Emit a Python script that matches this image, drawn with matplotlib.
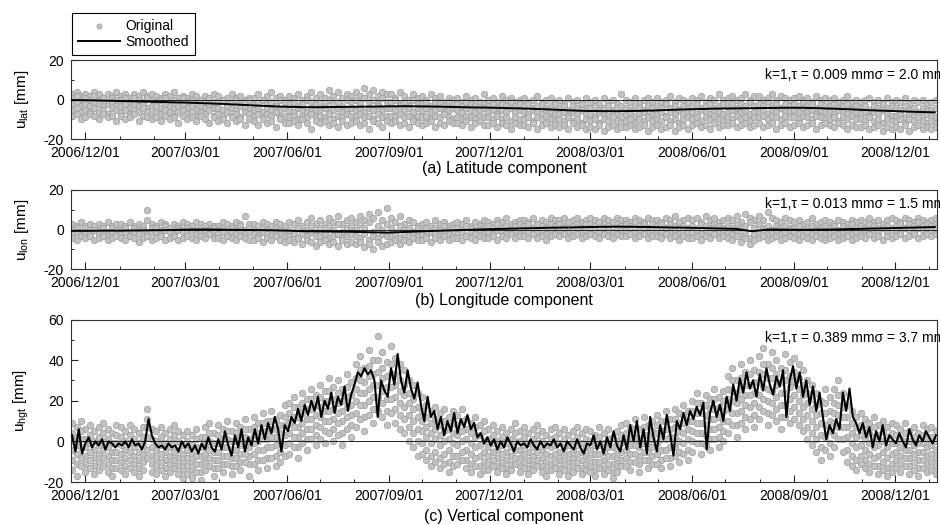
import numpy as np
import pandas as pd
import matplotlib
matplotlib.use('Agg')
import matplotlib.pyplot as plt
import matplotlib.dates as mdates
from matplotlib.ticker import MultipleLocator

plt.rcParams['font.family'] = ['Liberation Sans', 'DejaVu Sans']
plt.rcParams['mathtext.fontset'] = 'custom'
plt.rcParams['mathtext.rm'] = 'Liberation Sans'
plt.rcParams['mathtext.it'] = 'Liberation Sans:italic'
plt.rcParams['axes.unicode_minus'] = False

# ---------------- data ----------------
orig_start = '2006-11-19'      # original samples every 4 days
orig_step = 4
smooth_ab_start = '2006-11-18'  # smoothed lat/lon every 15 days
smooth_ab_step = 15
smooth_c_start = '2006-11-19'   # smoothed height every 3 days
smooth_c_step = 3

lat_smooth = [-0.2, -0.3, -0.5, -0.7, -0.9, -1.1, -1.3, -1.5, -1.8, -2.1, -2.5, -2.9, -3.3,
              -3.6, -3.8, -3.8, -3.7, -3.6, -3.5, -3.4, -3.3, -3.4, -3.5, -3.7, -3.9, -4.0,
              -4.2, -4.4, -4.7, -5.0, -5.4, -5.7, -5.8, -5.8, -5.7, -5.5, -5.2, -4.9, -4.7,
              -4.5, -4.4, -4.3, -4.2, -4.1, -4.1, -4.3, -4.6, -4.9, -5.3, -5.6, -5.9, -6.2, -6.4]

lon_smooth = [-0.6, -0.6, -0.5, -0.5, -0.4, -0.3, -0.2, 0.0, 0.1, 0.0, -0.1, -0.2, -0.3,
              -0.5, -0.8, -0.9, -1.0, -1.1, -1.3, -1.5, -1.2, -0.9, -0.6, -0.3, -0.1, 0.2,
              0.4, 0.6, 0.8, 1.0, 1.1, 1.3, 1.4, 1.5, 1.4, 1.3, 1.1, 1.0, 0.8, 0.6, 0.4,
              -0.8, 0.1, 0.0, -0.1, 0.0, 0.1, 0.3, 0.5, 0.7, 0.9, 1.1, 1.3]

hgt_smooth = [3, -5, 6, -6,
              -1, 2, -3, 0, -2, 1, -4, 0, -1, -3,
              -1, -2, 0, -3, 1, -2, -1, -4, 0, 11, 3,
              -1, -3, -2, -4, -1, -3, -2, -5, 0,
              -3, -1, -5, -2, -6, -1, -4, 2, -3, -5,
              1, -4, 5, -2, -7, 3, -3, 6, -5, 2,
              -2, 6, -1, 8, 1, 9, 4, 12, 6, -5, 8,
              5, 12, 9, 16, 10, 18, 13, 20, 15, 22,
              12, 20, 16, 24, 14, 22, 18, 27, 15, 23,
              28, 34, 32, 36, 33, 35, 30, 12, 30, 25,
              22, 36, 28, 43, 30, 24, 35, 26, 21, 29,
              18, 10, 22, 12, 15, 6, 12, 3, 10, 5, 14,
              4, 11, 7, 13, 6, 9, 2, 4, -1, 2,
              -2, 1, -4, 0, -3, 2, -1, -5, 0, -2,
              -1, -3, 1, -2, -4, 0, -3, -1, -2, 1,
              -3, -1, -5, 0, -2, -4, 1, -3, -6, -1,
              -2, 3, -4, 0, -6, 2, -3, 5, -2, -5,
              3, -4, 8, 0, 10, -3, 6, -6, 12, 2,
              -5, 8, 1, 13, 4, -7, 10, 6, 14, 8, 15,
              11, 17, 13, 19, -4, 14, 20, 12, 18, 10,
              22, 15, 28, 20, 31, 24, 34, 26, 30, 22,
              33, 25, 36, 28, 23, 32, 27, 35, 12, 30,
              37, 26, 34, 22, 30, 18, 27, 15, 24, 12,
              1, 8, 4, 11, 6, 24, 15, 26, 12, 9, 4,
              9, 2, 7, -3, 5, 0, 8, -2, 3, 1,
              -1, 4, 0, -3, 6, 1, -2, 3, 0, 5,
              2, -1, 3]

lat_orig_1 = """3 4 2  3 2 4 3 1 3 2 4  2 3 1 3 2 4 2 3  2 1 3 2 4 1 2  1 3 2 0 2 1 3
2 0 1 3 1 2 0 1  1 3 0 2 4 1 2 0  2 1 3 0 2 4 1  3 1 5 2 4 1 3 2  4 2 6 3 5 2 4 3
3 1 4 2 0 3 1  2 0 3 1 2 -1 1 0  1 -1 2 0 1 -1 3  0 1 -1 2 0 1 -1 0  1 -1 0 2 -1 0 1 -1
0 -2 1 -1 0 -2 1  -1 0 -2 1 -1 0 -2 3  0 -1 1 -2 0 1 -1  1 -1 0 2 -1 1 0 -1
1 0 2 -1 1 0 3 0  1 2 0 1 3 0 2  2 0 1 3 0 2 1 0  1 2 0 1 -1 2 0 1  0 1 -1 0 2 -1 0
-1 0 1 -1 0 -2 1 -1  0 -1 1 -2 0 -1 0 -2  -1 0"""
lat_orig_2 = """1 2 0  1 0 2 0 1 -1 1 0  0 1 -1 1 0 -1 1 0  -1 0 1 -1 0 -1 1  -1 0 -2 0 -1 1 -1
-1 0 -2 -1 0 -2 -1 0  -2 -1 0 -2 -1 -3 0 -1  -2 -1 -3 -2 0 -1 -2  -1 -3 0 -2 -1 -3 0 -1
0 -2 1 -1 0 -2 1 -1  -1 0 -2 -1 -3 0 -2  -2 -1 -3 -1 -2 -3 -1 -2  -2 -3 -1 -2 -3 -1 -2
-3 -2 -4 -2 -3 -1 -3 -2  -3 -2 -4 -3 -2 -4 -3 -2  -4 -3 -5 -3 -4 -2 -4  -4 -3 -5 -4 -3 -5 -4 -3
-4 -5 -3 -4 -5 -3 -4  -3 -4 -2 -4 -3 -5 -3 -4  -3 -2 -4 -3 -2 -4 -3 -2  -3 -2 -4 -2 -3 -1 -3
-2 -3 -1 -3 -2 -4 -2 -3  -2 -3 -1 -3 -2 -4 -2 -3  -3 -2 -4 -3 -2 -4 -3  -4 -3 -5 -3 -4 -2 -4 -3
-4 -5 -3 -5 -4 -6 -4 -5  -5 -4"""
lat_orig_3 = """-2 -1 -3  -2 -3 -1 -2 -3 -2 -1 -3  -3 -2 -4 -2 -3 -2 -4 -3  -3 -4 -2 -3 -4 -3 -2
-4 -3 -5 -3 -4 -2 -4  -4 -5 -3 -4 -5 -3 -4 -5  -5 -4 -6 -4 -5 -3 -5 -4  -5 -6 -4 -5 -6 -4 -5
-5 -4 -6 -5 -4 -6 -5 -4  -5 -4 -6 -4 -5 -3 -5 -4  -4 -5 -3 -5 -4 -6 -4  -5 -4 -6 -5 -4 -6 -5 -4
-5 -6 -4 -5 -6 -5 -4  -6 -5 -7 -5 -6 -4 -6 -5  -6 -7 -5 -6 -7 -5 -6 -7  -7 -6 -8 -6 -7 -5 -7
-7 -8 -6 -7 -8 -6 -7 -8  -7 -6 -8 -7 -6 -8 -7  -7 -6 -8 -6 -7 -5 -7 -6  -6 -7 -5 -6 -7 -5 -6 -7
-6 -5 -7 -6 -5 -7 -6  -6 -5 -7 -5 -6 -4 -6 -5  -5 -6 -4 -6 -5 -7 -5 -6  -6 -7 -5 -6 -7 -5 -6
-7 -6 -8 -6 -7 -5 -7 -8  -8 -7 -9 -7 -8 -6 -8 -7  -8 -9"""
lat_orig_4 = """-5 -4 -6  -5 -6 -4 -6 -5 -7 -4 -5  -6 -5 -7 -5 -6 -4 -6 -7  -6 -7 -5 -6 -8 -6 -5
-7 -6 -8 -6 -7 -5 -8  -7 -8 -6 -8 -7 -9 -6 -7  -8 -7 -9 -7 -8 -6 -9 -8  -9 -8 -10 -8 -9 -7 -9
-8 -9 -7 -10 -8 -9 -7 -8  -8 -7 -9 -8 -10 -7 -9 -8  -8 -9 -7 -9 -8 -10 -8  -9 -8 -10 -8 -9 -7 -9 -10
-9 -10 -8 -9 -10 -8 -9  -9 -10 -8 -10 -9 -11 -9 -10  -10 -9 -11 -9 -10 -8 -10 -11
-10 -11 -9 -11 -10 -12 -10  -11 -10 -12 -10 -11 -9 -11 -12  -11 -10 -12 -10 -11 -9 -11
-10 -11 -9 -11 -10 -12 -10 -9  -10 -9 -11 -9 -10 -8 -10 -11  -9 -10 -8 -10 -9 -11 -9
-9 -8 -10 -8 -9 -10 -8 -9  -9 -10 -8 -9 -10 -8 -9 -10  -10 -9 -11 -9 -10 -8 -10
-10 -11 -9 -11 -10 -12 -10 -11  -11 -10 -12 -10 -11 -9 -11 -12  -11 -12"""
lat_orig_5 = """-8 -7 -10  -9 -7 -8 -10 -7 -9 -8 -11  -8 -10 -9 -7 -11 -8 -9 -10  -9 -11 -8 -10 -9 -12 -8
-10 -9 -11 -8 -10 -12 -9  -11 -10 -12 -9 -11 -10 -13 -10  -11 -13 -10 -12 -11 -14 -10 -12
-12 -11 -13 -10 -12 -15 -11  -12 -11 -13 -12 -14 -11 -13 -12  -11 -13 -12 -15 -11 -12 -14 -11
-12 -11 -13 -12 -14 -11 -12  -13 -12 -11 -14 -12 -13 -11 -12  -12 -13 -11 -14 -12 -11 -13
-13 -12 -14 -12 -13 -15 -12 -13  -13 -14 -12 -15 -13 -12 -14 -13  -14 -13 -15 -12 -14 -13 -15
-14 -15 -13 -16 -14 -13 -15 -14  -14 -13 -15 -14 -13 -16 -14  -13 -15 -14 -13 -16 -14 -13 -15
-13 -12 -14 -13 -15 -12 -14 -13  -13 -12 -14 -13 -12 -14 -13  -12 -14 -13 -12 -15 -13 -12 -14
-13 -12 -14 -13 -12 -15 -13 -12  -13 -14 -12 -13 -15 -13 -14  -14 -13 -15 -14 -13 -16 -14 -15
-14 -15 -13 -16 -14 -13 -15 -14  -15 -14"""

lon_orig_1 = """3 2 4  2 3 1 3 2 4 2 3  3 2 4 2 3 1 10 3  2 4 3 1 3 2 4  3 2 4 3 1 3 2
2 4 3 2 4 3 7 3  3 2 4 3 2 4 3 2  4 3 5 2 4 6 3  5 3 6 4 7 3 5 6  4 7 5 8 6 9 5 11
6 4 7 3 5 4 2  3 4 2 5 3 4 2 3  4 3 5 2 4 3 5  4 3 5 4 6 3 4 5  5 4 6 3 5 4 6 5
5 6 4 5 6 4 5  6 5 4 6 5 4 6 5  5 4 6 5 4 6 5  5 4 6 5 7 4 5 6  5 6 4 7 5 6 4 5
6 5 7 4 8 6 5  7 5 9 6 5 4 6 5  4 5 3 4 6 3 4 5  4 3 5 4 3 5 4  5 4 6 4 5 3 5 6
5 4 6 5 4 6 5 4  5 6"""
lon_orig_2 = """0 1 -1  1 0 2 0 1 -1 1 0  0 1 -1 1 0 2 5 1  1 0 2 1 -1 1 0  1 2 0 1 2 0 1
0 1 -1 1 0 2 0 1  0 -1 1 0 -1 1 0 -1  0 -1 1 -1 0 2 -1  1 -1 2 0 3 -1 1 2  0 3 1 4 -1 2 0 3
1 -1 2 0 1 -1 1  0 1 -1 1 0 2 0 1  1 0 2 1 0 2 1  2 1 3 1 2 0 2 3  2 3 1 3 2 1 3 2
3 2 4 2 3 1 3  3 2 4 3 2 4 3 2  3 2 4 2 3 1 3  2 3 1 3 2 4 2 1  2 1 3 2 1 3 2 1
2 1 3 1 2 4 1  3 1 2 0 2 1 2 1  1 2 0 1 2 0 1 2  1 2 0 2 1 3 1  2 1 3 2 1 3 2 1
2 3 1 3 2 4 2 3  2 3"""
lon_orig_3 = """-2 -1 -3  -1 -2 0 -2 -1 -3 -1 -2  -2 -1 -3 -1 -2 0 -2 -1  -1 -2 0 -1 -2 0 -1
-1 0 -2 -1 0 -2 -1  -2 -1 -3 -1 -2 0 -2 -1  -2 -3 -1 -2 -3 -1 -2 -3  -3 -2 -4 -2 -3 -1 -3
-3 -2 -4 -3 -2 -4 -3 -2  -3 -4 -2 -5 -3 -4 -2 -3  -3 -2 -4 -2 -3 -1 -3  -2 -3 -1 -2 -3 -1 -2 -3
-2 -1 -3 -1 -2 0 -2  -1 -2 0 -1 -2 0 -1 -2  0 -1 1 -1 0 -2 0 -1  0 1 -1 0 1 -1 0
1 0 -1 1 0 -1 1 0  0 1 -1 0 1 -1 0  0 -1 1 -1 0 -2 0 -1  -1 0 -2 0 -1 1 -1 0
-1 -2 0 -3 -1 -4 -2  -1 0 -2 -1 0 -2 -1 0  -1 -2 0 -1 -2 0 -1 -2  -1 0 -2 -1 0 -2 -1
-1 0 -2 0 -1 1 -1 0  0 -1 1 0 -1 1 0 -1  0 1"""
lon_orig_4 = """-4 -5 -3  -4 -3 -5 -4 -3 -5 -4 -3  -4 -5 -3 -4 -6 -4 -3 -5  -4 -3 -5 -4 -3 -5 -4
-3 -4 -5 -3 -4 -2 -4  -4 -5 -3 -4 -5 -3 -4 -5  -5 -4 -6 -4 -5 -3 -5 -6  -5 -6 -4 -7 -5 -6 -8
-6 -5 -7 -6 -8 -5 -7 -6  -7 -6 -9 -7 -10 -6 -8 -7  -6 -5 -7 -5 -6 -4 -5  -5 -4 -6 -4 -5 -3 -5 -4
-4 -5 -3 -4 -5 -3 -4  -4 -3 -5 -3 -4 -2 -4 -3  -3 -4 -2 -4 -3 -5 -3 -2  -3 -2 -4 -3 -2 -4 -3
-2 -3 -4 -2 -3 -4 -2 -3  -3 -2 -4 -3 -2 -4 -3  -3 -4 -2 -4 -3 -5 -3 -4  -4 -3 -5 -3 -4 -2 -4 -3
-4 -5 -3 -6 -4 -7 -5  -4 -3 -5 -4 -3 -5 -4 -3  -4 -5 -3 -4 -5 -3 -4 -5  -4 -3 -5 -4 -3 -5 -4
-3 -4 -2 -4 -3 -5 -3 -4  -3 -2 -4 -3 -2 -4 -3 -2  -3 -2"""

hgt_orig_1 = """9 7 10  6 8 5 7 9 6 4 8  7 5 8 6 4 7 16 6  5 7 4 6 8 5 3  5 3 6 2 7 9 4
8 6 10 5 9 7 11 6  12 9 14 10 15 11 13 18  19 22 17 24 21 26 23  28 25 31 27 30 26 33 29
38 42 36 45 40 52 44 39  47 41 38 35 30 28 24  22 18 15 17 14 16 12 15  13 16 11 9 12 8 10
6 8 5 7 4 6 9 5  7 4 6 8 5 3 6 7  4 6 3 5 7 4 6  5 3 7 4 6 2 5 8  9 7 11 6 12 8 10
13 10 15 11 16 14 18 15  20 24 19 23 21 26 22 25  32 36 30 38 34 40 35  42 46 38 44 40 36 43 39
41 38 35 30 28 24 20 26  22 26 30 24 18 15 12  14 11 9 12 8 10 7 9  8 6 9 5 7 4 8 6  7 5"""
hgt_orig_2 = """4 2 5  1 3 0 2 4 1 -1 3  2 0 3 1 -1 2 11 1  0 2 -1 1 3 0 -2  0 -2 1 -3 2 4 -1
3 1 5 0 4 2 6 1  7 4 9 5 10 6 8 12  14 17 12 19 16 21 18  22 20 25 21 24 20 27 23
31 35 29 37 33 40 36 32  38 33 30 28 24 21 17  15 12 9 11 8 10 6 9  8 10 6 4 7 3 5
1 3 0 2 -1 1 4 0  2 -1 1 3 0 -2 1 2  -1 1 -2 0 2 -1 1  0 -2 2 -1 1 -3 0 3  4 2 6 1 7 3 5
8 5 10 6 11 9 13 10  15 19 14 18 16 21 17 20  26 30 24 31 28 33 29  34 38 31 36 33 29 35 32
34 31 28 24 21 18 14 19  15 19 23 17 12 9 7  8 6 4 7 3 5 2 4  3 1 4 0 2 -1 3 1  2 0"""
hgt_orig_3 = """0 -2 1  -3 -1 -4 -2 0 -3 -5 -1  -2 -4 -1 -3 -5 -2 7 -3  -4 -2 -5 -3 -1 -4 -6  -4 -6 -3 -7 -2 0 -5
-1 -3 1 -4 0 -2 2 -3  3 0 5 1 6 2 4 8  9 12 7 14 11 16 13  17 15 20 16 19 15 22 18
26 30 24 32 28 34 31 27  33 28 25 23 19 16 12  10 7 4 6 3 5 1 4  3 5 1 -1 2 -2 0
-3 -1 -4 -2 -5 -3 0 -4  -2 -5 -3 -1 -4 -6 -3 -2  -5 -3 -6 -4 -2 -5 -3  -4 -6 -2 -5 -3 -7 -4 -1  0 -2 2 -3 3 -1 1
4 1 6 2 7 5 9 6  10 14 9 13 11 16 12 15  21 25 19 26 23 28 24  29 33 26 31 28 24 30 27
29 26 23 19 16 13 9 14  10 14 18 12 7 4 2  3 1 -1 2 -2 0 -3 -1  -1 -3 0 -4 -2 -5 -1 -3  -2 -4"""
hgt_orig_4 = """-4 -6 -3  -7 -5 -8 -6 -4 -7 -9 -5  -6 -8 -5 -7 -9 -6 2 -7  -8 -6 -9 -7 -5 -8 -10  -8 -10 -7 -11 -6 -4 -9
-5 -7 -3 -8 -4 -6 -2 -7  -1 -4 1 -3 2 -2 0 3  4 7 2 9 6 11 8  12 10 15 11 14 10 17 13
20 24 18 26 22 28 25 21  27 22 19 17 13 10 6  5 2 -1 1 -2 0 -4 -1  -2 0 -4 -6 -3 -7 -5
-7 -5 -8 -6 -9 -7 -4 -8  -6 -9 -7 -5 -8 -10 -7 -6  -9 -7 -10 -8 -6 -9 -7  -8 -10 -6 -9 -7 -11 -8 -5  -4 -6 -2 -7 -1 -5 -3
-1 -4 1 -3 2 0 4 1  5 9 4 8 6 11 7 10  16 20 14 21 18 23 19  23 27 20 25 22 18 24 21
23 20 17 13 10 7 3 8  5 9 13 7 2 -1 -3  -2 -4 -6 -3 -7 -5 -8 -6  -5 -7 -4 -8 -6 -9 -5 -7  -6 -8"""
hgt_orig_5 = """-9 -11 -8  -11 -9 -12 -10 -8 -11 -13 -9  -10 -12 -9 -11 -13 -10 -4 -11  -12 -10 -13 -11 -9 -12 -14
-12 -14 -11 -15 -10 -8 -13  -9 -11 -7 -12 -8 -10 -6 -11  -6 -9 -4 -8 -3 -7 -5 -2  -1 2 -3 4 1 6 3
7 5 10 6 9 4 12 8  14 18 12 20 16 22 19 15  21 16 13 11 7 4 0  -1 -4 -7 -5 -8 -6 -10 -7  -7 -5 -9 -11 -8 -12 -10
-11 -9 -12 -10 -13 -11 -8 -12  -10 -13 -11 -9 -12 -14 -11 -10  -13 -11 -14 -12 -10 -13 -11
-12 -14 -10 -13 -11 -15 -12 -9  -8 -10 -6 -11 -5 -9 -7  -6 -9 -4 -8 -3 -5 -1 -4  0 4 -1 3 1 6 2 5
10 14 8 15 12 17 13  17 21 14 19 16 12 18 15  17 14 11 7 4 1 -3 2  -1 3 7 1 -4 -7 -9
-7 -9 -11 -8 -12 -10 -13 -11  -9 -11 -8 -12 -10 -13 -9 -11  -10 -12"""
hgt_orig_6 = """-14 -17 -12  -15 -13 -16 -14 -12 -15 -17 -13  -14 -16 -13 -15 -17 -14 -8 -15  -16 -14 -17 -15 -13 -16 -18
-16 -18 -15 -19 -14 -12 -17  -13 -15 -11 -16 -12 -14 -10 -17  -11 -14 -9 -13 -8 -12 -10 -7  -6 -3 -8 -1 -4 1 -2
1 -1 4 0 3 -2 6 2  7 11 5 13 9 15 12 8  14 9 6 4 0 -3 -7  -6 -9 -12 -10 -13 -11 -15 -12  -11 -9 -13 -15 -12 -16 -14
-14 -12 -15 -13 -16 -14 -11 -15  -13 -16 -14 -12 -15 -17 -14 -13  -16 -14 -17 -15 -13 -16 -14
-15 -17 -13 -16 -14 -18 -15 -12  -12 -14 -10 -15 -9 -13 -11  -11 -13 -8 -12 -7 -10 -6 -9  -5 -1 -6 -2 -4 1 -3 0
4 8 2 9 6 11 7  11 15 8 13 10 6 12 9  11 8 5 1 -2 -5 -9 -4  -7 -3 1 -5 -10 -12 -14
-11 -13 -15 -12 -16 -14 -17 -15  -13 -15 -12 -16 -14 -17 -13 -15  -14 -16"""

panel_titles = ['(a) Latitude component', '(b) Longitude component', '(c) Vertical component']
ylabels = [r'u$_{\mathrm{lat}}$ [mm]', r'u$_{\mathrm{lon}}$ [mm]', r'u$_{\mathrm{hgt}}$ [mm]']
stats_text = ['k=1,\u03c4 = 0.009 mm\u03c3 = 2.0 mm',
              'k=1,\u03c4 = 0.013 mm\u03c3 = 1.5 mm',
              'k=1,\u03c4 = 0.389 mm\u03c3 = 3.7 mm']
ylims = [(-20, 20), (-20, 20), (-20, 60)]
xlim = ('2006-11-18', '2009-01-08')

# ---------------- plotting ----------------
W, H = 940, 525
fig = plt.figure(figsize=(W / 100, H / 100), dpi=100)

def rect(x0, y0, x1, y1):
    return [x0 / W, 1 - y1 / H, (x1 - x0) / W, (y1 - y0) / H]

axes = [fig.add_axes(rect(71, 60, 937, 139.3)),
        fig.add_axes(rect(71, 190, 937, 269.3)),
        fig.add_axes(rect(71, 319.5, 937, 482))]

def parse(s):
    return np.array(s.split(), dtype=float)

orig_sets = [[lat_orig_1, lat_orig_2, lat_orig_3, lat_orig_4, lat_orig_5],
             [lon_orig_1, lon_orig_2, lon_orig_3, lon_orig_4],
             [hgt_orig_1, hgt_orig_2, hgt_orig_3, hgt_orig_4, hgt_orig_5, hgt_orig_6]]
smooth_sets = [(lat_smooth, smooth_ab_start, smooth_ab_step),
               (lon_smooth, smooth_ab_start, smooth_ab_step),
               (hgt_smooth, smooth_c_start, smooth_c_step)]
smooth_lw = [1.4, 1.4, 1.5]

text_y = [75, 204, 338]
title_y = [168, 300, 516]

handles = None
for k, ax in enumerate(axes):
    xs, ys = [], []
    for row in orig_sets[k]:
        v = parse(row)
        d = pd.Timestamp(orig_start) + pd.to_timedelta(np.arange(len(v)) * orig_step, unit='D')
        xs.append(np.asarray(d))
        ys.append(v)
    xall = np.concatenate(xs)
    yall = np.concatenate(ys)
    sc = ax.scatter(xall, yall, s=22, facecolor='#c2c2c2', edgecolor='#9c9c9c',
                    linewidths=0.5, zorder=2, label='Original')
    ax.axhline(0, color='#222222', lw=0.7, zorder=3)
    sv, sstart, sstep = smooth_sets[k]
    sd = pd.Timestamp(sstart) + pd.to_timedelta(np.arange(len(sv)) * sstep, unit='D')
    ln, = ax.plot(sd, sv, color='black', lw=smooth_lw[k], zorder=4, label='Smoothed')
    if k == 0:
        handles = [sc, ln]

    ax.set_xlim(pd.Timestamp(xlim[0]), pd.Timestamp(xlim[1]))
    ax.set_ylim(*ylims[k])
    ax.yaxis.set_major_locator(MultipleLocator(20))
    ax.yaxis.set_minor_locator(MultipleLocator(10))
    ax.xaxis.set_major_locator(mdates.MonthLocator(bymonth=[3, 6, 9, 12], bymonthday=1))
    ax.xaxis.set_minor_locator(mdates.MonthLocator(bymonthday=1))
    ax.xaxis.set_major_formatter(mdates.DateFormatter('%Y/%m/%d'))
    ax.tick_params(which='both', direction='in', top=False, right=False,
                   labelsize=10, color='#222222')
    ax.tick_params(which='major', length=5, width=0.8)
    ax.tick_params(which='minor', length=2.5, width=0.7)
    ax.tick_params(axis='x', which='major', pad=5)
    ax.tick_params(axis='y', which='major', pad=5)
    for sp in ax.spines.values():
        sp.set_color('#333333')
        sp.set_linewidth(0.8)
    ax.set_ylabel(ylabels[k], fontsize=11)
    ax.yaxis.set_label_coords(-0.046, 0.5)

    fig.text(765 / W, 1 - text_y[k] / H, stats_text[k], fontsize=10,
             ha='left', va='center')
    fig.text(504 / W, 1 - title_y[k] / H, panel_titles[k], fontsize=11.5,
             ha='center', va='center')

leg = fig.legend(handles, ['Original', 'Smoothed'], loc='upper left',
                 bbox_to_anchor=(72 / W, 1 - 12.7 / H), bbox_transform=fig.transFigure,
                 frameon=True, fancybox=False, edgecolor='black', framealpha=1,
                 borderpad=0.45, labelspacing=0.15, handlelength=3.0,
                 handletextpad=0.4, fontsize=10, scatterpoints=1, borderaxespad=0,
                 markerscale=0.8)
leg.get_frame().set_linewidth(0.8)

fig.savefig('out.png', dpi=100)
